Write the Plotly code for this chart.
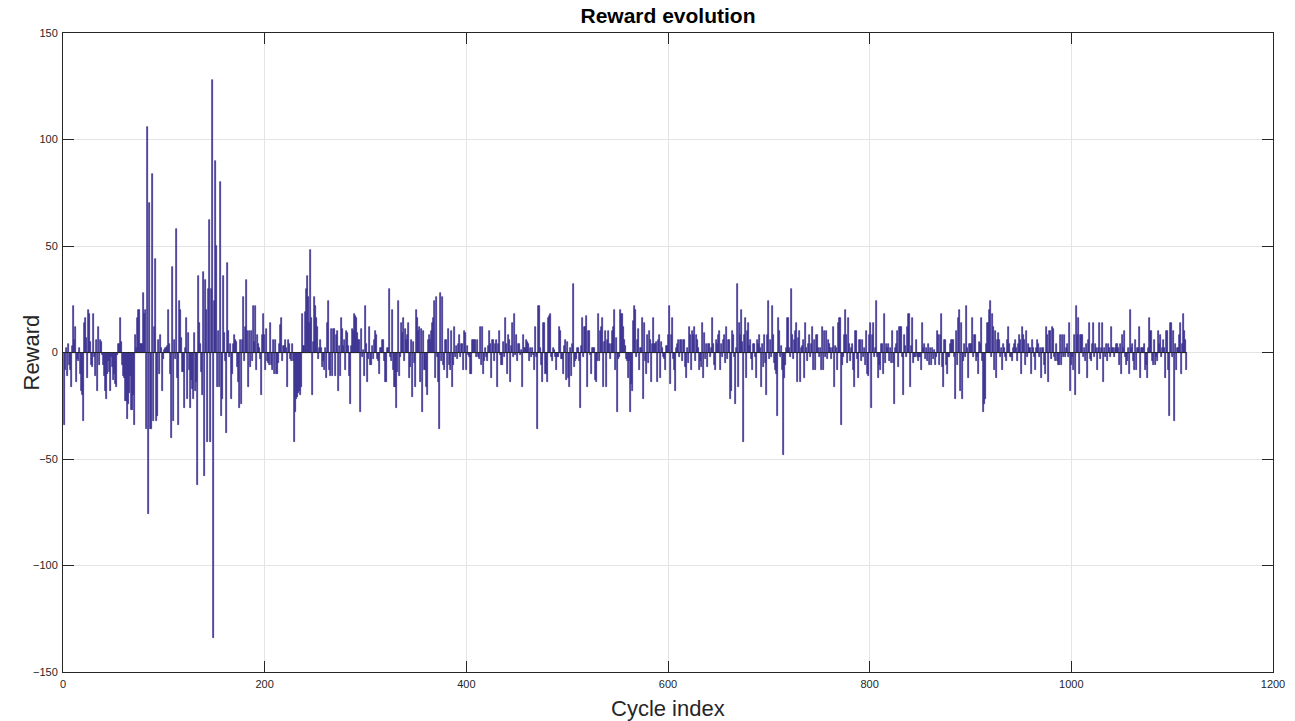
import numpy as np
import plotly.graph_objects as go

# Reward values per cycle in segments
reward_000_096 = [-34,-8,2,-11,4,-6,-8,-16,3,22,
    6,12,-14,-3,-4,2,-10,-18,-20,-32,
    14,16,7,-12,20,18,5,-6,-7,18,
    -2,-11,6,-18,12,-6,6,5,-1,-6,
    -11,-18,-22,-10,-4,-9,-18,-2,-7,-13,
    -10,-15,-16,-1,4,4,16,5,-6,-11,
    -12,-23,-23,-31,-24,-19,-11,-27,-27,-20,
    -34,8,2,16,20,20,4,4,4,28,
    18,20,-36,106,-76,70,-36,-36,84,-32,
    12,44,-32,-30,6,-10,8]
reward_097_188 = [2,-18,-3,1,2,2,3,20,4,-10,
    -40,40,-32,6,-3,58,-12,-34,24,20,
    7,-9,-26,2,16,-22,9,-8,-26,-13,
    -17,-22,9,-18,-14,-62,36,14,4,-9,
    -20,38,-58,34,20,-42,30,62,-42,30,
    128,-134,24,90,50,-16,10,-16,80,-30,
    -22,36,9,-4,-38,42,10,-2,4,-22,
    -10,4,8,6,5,-7,-14,-26,6,-24,
    6,26,-4,12,34,10,-16,10,-7,10,
    -4,22]
reward_189_284 = [5,22,-8,8,4,2,-3,-20,8,18,
    8,-8,11,-4,-5,-6,14,-6,-8,6,
    -10,6,-10,-10,-5,4,13,16,-4,3,
    3,6,2,-16,6,4,-3,-4,4,-4,
    -42,-28,-22,-21,-19,-18,-20,-16,18,3,
    19,30,36,26,14,48,16,-20,5,26,
    22,16,12,-3,2,6,2,-7,-4,-8,
    2,-12,14,24,-8,-11,11,-11,11,11,
    -11,8,10,-18,3,-11,16,11,3,6,
    -8,10,9,3,-11,-24]
reward_285_378 = [3,11,10,18,17,16,9,6,6,-28,
    11,-2,1,-11,22,4,-14,-3,12,-6,
    -6,3,-3,6,10,8,-3,-4,-10,2,
    2,6,6,-4,-14,-14,2,2,30,-2,
    -4,20,-8,-16,-16,-26,-9,24,-11,-2,
    14,9,16,-4,11,6,8,14,-12,-7,
    6,-21,5,-5,-16,20,16,10,12,-14,
    11,-28,10,-8,-16,-20,6,8,6,10,
    14,16,24,-12,26,-2,-14,-36,28,-4,
    26,-6,-8,6]
reward_379_473 = [6,-12,11,-6,-8,10,-16,-6,12,-2,
    3,-3,4,8,-2,4,4,-8,10,9,
    -8,3,-1,-2,-10,-10,6,6,6,6,
    -2,6,-2,-3,12,-6,12,-10,-4,2,
    -2,-4,3,10,4,-12,6,6,-4,4,
    6,-16,4,10,-1,-6,-6,5,-2,16,
    4,-10,8,6,-14,3,14,-2,18,-1,
    8,-4,4,4,-1,1,-16,8,2,2,
    6,5,4,-4,2,-2,2,-1,-8,12,
    -2,-36,22,22,2]
reward_474_566 = [-6,-14,14,14,-10,-14,16,17,18,-2,
    -4,2,1,-2,-8,-2,-2,12,10,-3,
    -3,-10,3,6,-13,5,-12,-16,2,-11,
    4,32,-7,-4,-3,2,2,-4,-26,3,
    16,-2,12,12,17,-16,10,10,-1,-10,
    2,2,2,-13,-14,-4,18,-4,10,12,
    16,-16,5,10,-16,6,10,4,-3,4,
    10,12,20,-8,7,-28,-3,-2,20,18,
    18,12,6,3,-3,-4,-12,-4,-28,-15,
    -18,15,22]
reward_567_661 = [20,-2,6,11,-8,2,2,16,-22,14,
    -4,-10,8,-5,10,6,-14,4,16,4,
    4,5,-14,6,8,-12,5,2,-2,-3,
    -8,3,8,22,-15,8,16,-3,-8,-18,
    2,4,6,-2,6,6,-4,6,6,-7,
    -12,2,-5,12,8,-8,10,8,12,-4,
    8,6,2,-8,-4,-7,14,-12,9,-3,
    4,-7,4,4,-2,2,16,4,-6,-8,
    6,4,8,10,-8,4,-2,6,8,-5,
    12,-3,6,6,-22]
reward_662_755 = [-18,10,8,-2,-24,2,32,-16,14,8,
    20,5,-42,8,16,-12,10,14,3,6,
    -3,-8,4,4,-2,-12,6,4,8,2,
    -16,4,-7,8,-5,-20,8,24,-3,6,
    -2,22,8,-5,-8,-10,-30,16,10,-2,
    3,-8,-48,-12,-6,2,16,2,-2,30,
    8,-3,6,10,14,-14,7,10,-14,2,
    3,6,-12,14,2,-4,4,8,-2,4,
    12,-8,6,-8,8,8,2,-2,2,-8,
    12,-8,10,-2]
reward_756_850 = [10,-3,6,4,2,-3,2,12,-16,3,
    2,-8,14,16,16,-34,-6,-2,8,20,
    8,-5,16,4,-4,2,4,-8,-16,10,
    10,-3,-12,6,6,-4,6,-2,2,-6,
    10,-10,-11,8,14,-26,8,14,-2,2,
    24,-2,-12,-6,-8,4,4,-10,18,-5,
    4,2,4,-4,2,-5,10,-5,-24,2,
    4,10,-7,12,12,12,-2,-20,8,3,
    -2,12,18,-16,3,16,-5,-2,-2,6,
    -2,-4,-2,-2,-8]
reward_851_944 = [14,2,4,-3,2,-4,4,-6,2,-6,
    2,-3,1,-6,-2,10,8,-6,8,18,
    -7,-16,6,6,-6,-10,-2,-2,4,6,
    6,6,-2,-22,10,-6,16,20,-18,14,
    -22,-4,4,-2,22,2,-12,4,4,4,
    16,-2,8,8,-4,-2,-10,5,4,16,
    -4,-28,-24,-22,4,14,14,20,24,-2,
    18,12,-8,10,-12,6,9,6,-2,2,
    -8,4,2,-2,-4,6,12,4,-2,-2,
    -4,2,4,6]
reward_945_1038 = [2,-4,4,8,6,-10,12,8,6,-6,
    10,-2,4,2,-10,6,2,-2,-8,2,
    6,4,-2,2,-12,2,2,-6,-10,12,
    8,-14,10,10,-3,12,11,-2,-4,4,
    -4,-6,-6,8,-6,8,-2,8,-2,2,
    4,-2,14,-18,-6,-2,-8,8,-20,22,
    8,16,-10,8,8,8,-2,2,-4,4,
    -12,6,14,-3,-4,4,14,-2,4,2,
    -8,2,14,-3,2,14,-14,2,-2,4,
    -4,4,2,-2]
reward_1039_1113 = [12,2,2,-2,2,4,4,2,-6,4,
    -10,8,2,10,-2,-6,-4,2,-10,20,
    2,4,-4,-8,6,-8,2,2,12,-12,
    2,2,2,4,-8,-6,-12,2,16,10,
    -4,-6,6,-6,-2,-4,10,4,8,-2,
    2,6,2,-12,10,10,-8,-30,14,14,
    -2,10,-32,4,-8,2,2,8,14,-10,
    4,18,10,6,-8]

rewards = (reward_000_096 + reward_097_188 + reward_189_284 + reward_285_378
           + reward_379_473 + reward_474_566 + reward_567_661 + reward_662_755
           + reward_756_850 + reward_851_944 + reward_945_1038 + reward_1039_1113)
cycles = np.arange(1, len(rewards) + 1)

x_ticks = [0, 200, 400, 600, 800, 1000, 1200]
y_ticks = [-150, -100, -50, 0, 50, 100, 150]

BAR = "#3b3190"
AX = "#262626"
FONT = "Liberation Sans, Arial, sans-serif"

W, H = 1295, 721
L, R, T, B = 63, 22, 33, 49
PW = W - L - R
PH = H - T - B

fig = go.Figure()
fig.add_trace(go.Bar(x=cycles, y=rewards, marker=dict(color=BAR, line=dict(color=BAR, width=0.7)),
                     width=1.0, showlegend=False))
fig.add_trace(go.Scatter(x=[0, len(rewards) + 0.5], y=[0, 0], mode="lines",
                         line=dict(color=AX, width=1), showlegend=False, hoverinfo="skip"))

fig.update_layout(
    width=W, height=H,
    margin=dict(l=L, r=R, t=T, b=B, autoexpand=False),
    paper_bgcolor="white", plot_bgcolor="white",
    bargap=0,
    font=dict(family=FONT, color=AX, size=11),
    title=dict(text="<b>Reward evolution</b>", x=0.5, xref="paper", xanchor="center",
               y=1 - 16 / H, yref="container", yanchor="middle",
               font=dict(size=21, color="black", family=FONT)),
    annotations=[
        dict(text="Cycle index", xref="paper", yref="paper", x=0.5, y=-(708 - (T + PH)) / PH,
             xanchor="center", yanchor="middle", showarrow=False,
             font=dict(size=22, color=AX, family=FONT)),
        dict(text="Reward", xref="paper", yref="paper", x=-(L - 31) / PW, y=0.5,
             xanchor="center", yanchor="middle", textangle=-90, showarrow=False,
             font=dict(size=22, color=AX, family=FONT)),
    ],
)
axis_common = dict(showline=True, linecolor=AX, linewidth=1, mirror="allticks",
                   ticks="inside", ticklen=11, tickcolor=AX, tickwidth=1,
                   showgrid=True, gridcolor="#e4e4e4", gridwidth=1, zeroline=False,
                   automargin=False,
                   tickfont=dict(size=11, color=AX, family=FONT))
fig.update_xaxes(range=[0, 1200], tickvals=x_ticks, ticklabelstandoff=2, **axis_common)
fig.update_yaxes(range=[-150, 150], tickvals=y_ticks, ticklabelstandoff=2, **axis_common)

fig.write_html("out.html", config={"displayModeBar": False},
               post_script="document.body.style.margin='0';document.body.style.overflow='hidden';")
